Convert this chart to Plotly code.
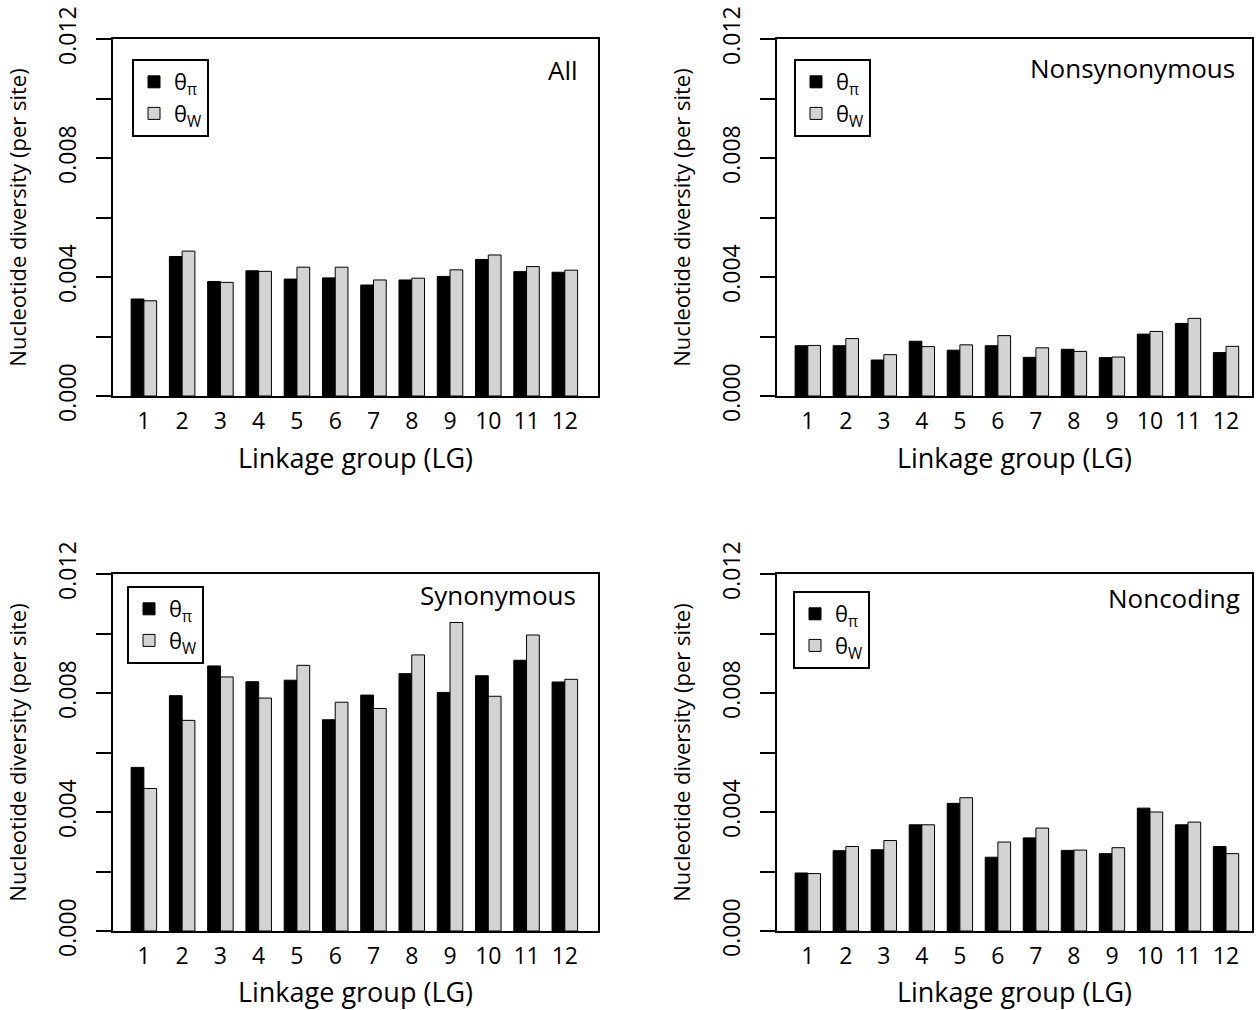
import plotly.graph_objects as go

# ---------------- data (per-site nucleotide diversity) ----------------
lg = [str(i) for i in range(1, 13)]

all_pi = [0.00326, 0.00469, 0.00385, 0.00421, 0.00393, 0.00397, 0.00373, 0.00390, 0.00402, 0.00459, 0.00418, 0.00416]
all_w = [0.00320, 0.00487, 0.00382, 0.00419, 0.00433, 0.00433, 0.00390, 0.00396, 0.00424, 0.00474, 0.00435, 0.00423]

nonsyn_pi = [0.00169, 0.00169, 0.00121, 0.00184, 0.00154, 0.00169, 0.00130, 0.00157, 0.00129, 0.00208, 0.00244, 0.00146]
nonsyn_w = [0.00170, 0.00193, 0.00139, 0.00166, 0.00172, 0.00203, 0.00162, 0.00150, 0.00131, 0.00217, 0.00261, 0.00167]

syn_pi = [0.00550, 0.00791, 0.00891, 0.00838, 0.00843, 0.00710, 0.00793, 0.00865, 0.00802, 0.00858, 0.00910, 0.00837]
syn_w = [0.00479, 0.00708, 0.00854, 0.00783, 0.00893, 0.00769, 0.00748, 0.00928, 0.01037, 0.00789, 0.00995, 0.00846]

nc_pi = [0.00195, 0.00270, 0.00273, 0.00357, 0.00429, 0.00248, 0.00313, 0.00271, 0.00260, 0.00413, 0.00357, 0.00284]
nc_w = [0.00193, 0.00284, 0.00304, 0.00357, 0.00448, 0.00299, 0.00346, 0.00272, 0.00280, 0.00400, 0.00366, 0.00260]

panel_names = ["All", "Nonsynonymous", "Synonymous", "Noncoding"]
series_names = ["θ<sub>π</sub>", "θ<sub>W</sub>"]

y_tickvals = [0.000, 0.002, 0.004, 0.006, 0.008, 0.010, 0.012]
y_ticktext = ["0.000", "", "0.004", "", "0.008", "", "0.012"]

# ---------------- layout geometry ----------------
W, H = 1257, 1010
FONT = "Open Sans"

panels = [
    dict(pi=all_pi, w=all_w, xd=(113, 598), yd=(39, 396), xr=(-0.807, 11.867), lab=(0.963, 0.913), leg=(132, 59)),
    dict(pi=nonsyn_pi, w=nonsyn_w, xd=(777, 1252), yd=(39, 396), xr=(-0.81, 11.683), lab=(0.968, 0.918), leg=(794, 59)),
    dict(pi=syn_pi, w=syn_w, xd=(113, 598), yd=(574, 931), xr=(-0.807, 11.867), lab=(0.959, 0.940), leg=(127, 586)),
    dict(pi=nc_pi, w=nc_w, xd=(777, 1252), yd=(574, 931), xr=(-0.81, 11.683), lab=(0.979, 0.934), leg=(793, 591)),
]

fig = go.Figure()
layout = dict(
    width=W, height=H,
    margin=dict(l=0, r=0, t=0, b=0, autoexpand=False),
    paper_bgcolor="white", plot_bgcolor="white",
    font=dict(family=FONT, color="black", size=22),
    barmode="group", bargap=1/3, bargroupgap=0,
    annotations=[],
)

for k, p in enumerate(panels):
    n = "" if k == 0 else str(k + 1)
    legname = "legend" + n
    fig.add_trace(go.Bar(
        x=lg, y=p["pi"], name=series_names[0], xaxis="x" + n, yaxis="y" + n,
        marker=dict(color="black", line=dict(color="black", width=1)),
        legend=legname, legendgroup="pi" + n,
    ))
    fig.add_trace(go.Bar(
        x=lg, y=p["w"], name=series_names[1], xaxis="x" + n, yaxis="y" + n,
        marker=dict(color="#d3d3d3", line=dict(color="black", width=1)),
        legend=legname, legendgroup="w" + n,
    ))
    x0, x1 = p["xd"]
    ytop, ybot = p["yd"]
    layout["xaxis" + n] = dict(
        domain=[x0 / W, x1 / W], range=list(p["xr"]), anchor="y" + n,
        type="category", automargin=False,
        showline=True, mirror=True, linecolor="black", linewidth=2,
        ticks="", showgrid=False, zeroline=False,
        tickfont=dict(size=23), ticklabelstandoff=3,
        title=dict(text="Linkage group (LG)", font=dict(size=27), standoff=15),
    )
    layout["yaxis" + n] = dict(
        domain=[1 - ybot / H, 1 - ytop / H], range=[0, 0.012], anchor="x" + n,
        automargin=False,
        showline=True, mirror=True, linecolor="black", linewidth=2,
        ticks="outside", ticklen=15, tickwidth=2, tickcolor="black",
        tickvals=y_tickvals, ticktext=y_ticktext, tickangle=-90,
        tickfont=dict(size=23), ticklabelstandoff=11,
        showgrid=False, zeroline=False,
        title=dict(text="Nucleotide diversity (per site)", font=dict(size=22), standoff=18),
    )
    lx, ly = p["leg"]
    layout[legname] = dict(
        x=lx / W, y=1 - ly / H, xanchor="left", yanchor="top",
        xref="paper", yref="paper",
        bordercolor="black", borderwidth=2, bgcolor="white",
        font=dict(size=22, family=FONT), tracegroupgap=9,
        traceorder="normal",
    )
    layout["annotations"].append(dict(
        text=panel_names[k], xref="x" + n + " domain", yref="y" + n + " domain",
        x=p["lab"][0], y=p["lab"][1], xanchor="right", yanchor="middle",
        showarrow=False, font=dict(size=26, family=FONT),
    ))

fig.update_layout(**layout)
fig.write_html("out.html")
